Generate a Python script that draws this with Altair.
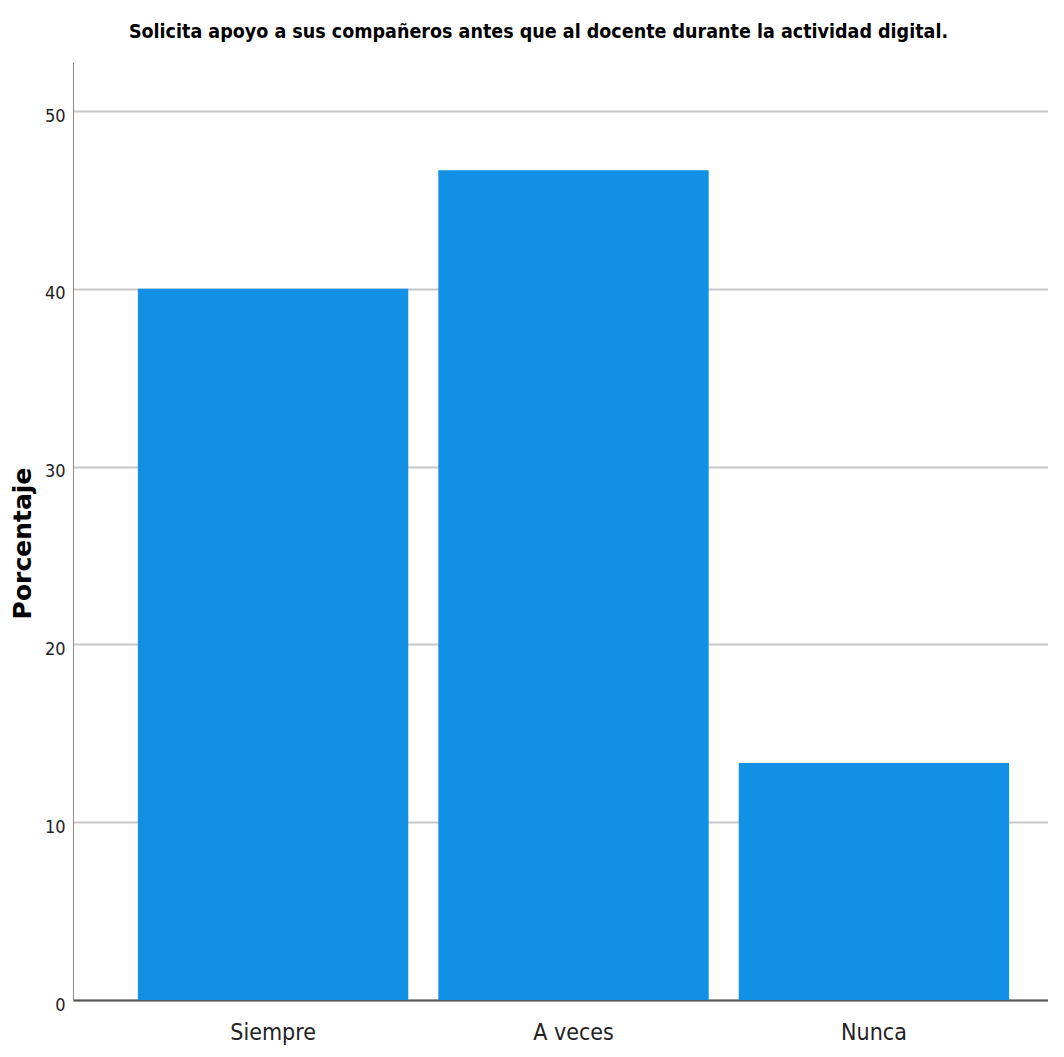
import altair as alt
import pandas as pd

categories = ["Siempre", "A veces", "Nunca"]
percentages = [40.0, 46.67, 13.33]
y_ticks = [0, 10, 20, 30, 40, 50]
title_text = "Solicita apoyo a sus compañeros antes que al docente durante la actividad digital."
y_title = "Porcentaje"

df = pd.DataFrame({"cat": categories, "pct": percentages})

NARROW = "Liberation Sans Narrow, DejaVu Sans Condensed, Arial Narrow, sans-serif"

chart = alt.Chart(df).mark_bar(color="#1290E6").encode(
    x=alt.X(
        "cat:N",
        sort=categories,
        title=None,
        scale=alt.Scale(paddingInner=0.1, paddingOuter=0.216, range=[0, 1001]),
        axis=alt.Axis(
            labelFont=NARROW,
            labelFontSize=23,
            labelColor="#222222",
            labelPadding=21,
            labelAngle=0,
            ticks=False,
            domainColor="#555555",
            domainWidth=2,
            grid=False,
        ),
    ),
    y=alt.Y(
        "pct:Q",
        title=y_title,
        scale=alt.Scale(domain=[0, 52.76], nice=False),
        axis=alt.Axis(
            values=y_ticks,
            labelFont=NARROW,
            labelFontSize=18,
            labelColor="#222222",
            labelPadding=8,
            labelOffset=5,
            ticks=False,
            domainColor="#8a8a8a",
            domainWidth=1,
            grid=True,
            gridColor="#c8c8c8",
            gridWidth=2,
            titleFont="DejaVu Sans",
            titleFontWeight="bold",
            titleFontSize=25,
            titleColor="#000000",
            titleAngle=270,
            titleX=-51,
            titleY=481,
            titleAlign="center",
            titleBaseline="middle",
        ),
    ),
).properties(
    width=975,
    height=938,
    title=alt.Title(
        title_text,
        font=NARROW,
        fontSize=19.5,
        fontWeight="bold",
        color="#000000",
        anchor="middle",
        baseline="alphabetic",
        offset=5,
        dx=-22,
    ),
    autosize=alt.AutoSizeParams(type="none"),
    padding={"left": 65, "top": 54, "right": 0, "bottom": 45},
).configure_view(stroke=None)

chart.save("out.html", embed_options={"renderer": "svg", "actions": False})
